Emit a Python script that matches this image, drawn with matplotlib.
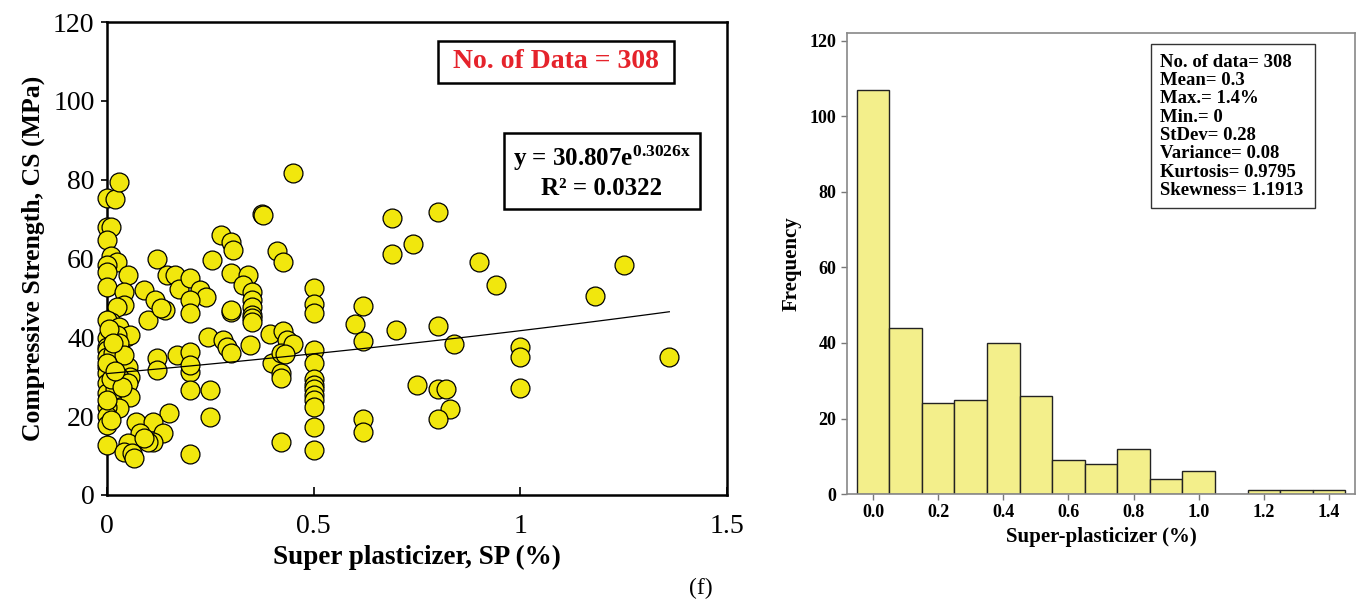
import numpy as np
import matplotlib.pyplot as plt

plt.rcParams['font.family'] = ['Liberation Serif', 'DejaVu Serif']
plt.rcParams['mathtext.fontset'] = 'custom'
plt.rcParams['mathtext.rm'] = 'Liberation Serif:bold'
plt.rcParams['mathtext.it'] = 'Liberation Serif:bold'
plt.rcParams['mathtext.bf'] = 'Liberation Serif:bold'

# Scatter data: super plasticizer (%) vs compressive strength (MPa)
sp = [0, 0.02, 0.03, 0, 0.01, 0, 0.01, 0.025, 0, 0, 0.05, 0, 0.04, 0.04, 0.025,
      0.01, 0, 0.03, 0.045, 0.055, 0, 0.025, 0, 0.03, 0, 0, 0.01, 0, 0.025, 0.05,
      0.055, 0.03, 0, 0, 0.05, 0, 0.03, 0.055, 0.03, 0, 0, 0, 0, 0.015, 0.02,
      0.01, 0.005, 0.04, 0.035, 0.01, 0, 0, 0.02, 0.015,
      0.15, 0.07, 0.11, 0.135, 0.08, 0.11, 0.05, 0.04, 0.06, 0.065, 0.1, 0.09,
      0.12, 0.09, 0.115, 0.14, 0.1, 0.13, 0.145, 0.165, 0.175, 0.2, 0.225, 0.24,
      0.2, 0.2, 0.12, 0.12, 0.17, 0.2, 0.2, 0.2, 0.2, 0.2,
      0.25, 0.25, 0.245, 0.28, 0.29, 0.3, 0.3, 0.3, 0.255, 0.275, 0.3, 0.305,
      0.3, 0.34, 0.33, 0.35, 0.35, 0.35, 0.35, 0.35, 0.35, 0.345, 0.375, 0.378,
      0.41, 0.425, 0.395, 0.425, 0.435, 0.4, 0.42, 0.42, 0.42, 0.42, 0.45, 0.45,
      0.43,
      0.5, 0.5, 0.5, 0.5, 0.5, 0.5, 0.5, 0.5, 0.5, 0.5, 0.5, 0.5, 0.5,
      0.62, 0.6, 0.62, 0.62, 0.62, 0.69, 0.69, 0.7, 0.74, 0.75,
      0.8, 0.8, 0.84, 0.8, 0.82, 0.83, 0.8, 0.9, 0.94, 1.0, 1.0, 1.0, 1.18,
      1.25, 1.36]
cs = [75.4, 75, 79.5, 68, 68, 64.7, 60.7, 59, 58.4, 56.6, 55.8, 52.8, 51.5, 48.2,
      47.7, 44, 44.4, 42.6, 40.1, 40.6, 39.8, 40.6, 37.6, 38.6, 36.8, 35, 34,
      32.5, 33.5, 32.5, 30, 30, 31, 28.4, 28.4, 25.9, 24.9, 24.9, 22, 22.3, 20,
      17.8, 12.7, 36, 27, 29.5, 42, 35.5, 27.5, 19, 24, 33.5, 31.5, 38.5,
      20.8, 18.5, 18.5, 15.7, 15.7, 13.5, 13.2, 11, 10.7, 9.4, 13.4, 14.5,
      60, 52, 49.5, 47, 44.4, 47.5, 55.8, 55.8, 52.3, 55, 52, 50.3,
      49.5, 46.2, 34.8, 31.7, 35.5, 36.3, 31.2, 33, 26.6, 10.4,
      26.6, 19.8, 40, 39.3, 37.6, 36, 46.5, 47, 59.6, 66, 64.2, 62.2,
      56.4, 55.8, 53.3, 51.5, 49.5, 47.7, 45.7, 45, 44, 38, 71.3, 71,
      62, 59, 40.9, 41.6, 39.3, 33.5, 36, 31, 29.7, 13.5, 81.7, 38.3,
      35.8,
      52.5, 48.5, 46.2, 36.8, 33.5, 29.4, 28, 27, 25.4, 24, 22.3, 17.3, 11.4,
      48, 43.4, 39, 19.3, 16, 70.3, 61.2, 41.9, 63.7, 28,
      71.8, 42.9, 38.3, 26.9, 26.9, 21.8, 19.3, 59, 53.3, 37.6, 35, 27.2, 50.5,
      58.4, 35]

# exponential trendline y = a * exp(b x)
fit_a = 30.807
fit_b = 0.3026
fit_xmax = 1.36

# Histogram of super-plasticizer
bin_centers = [0.0, 0.1, 0.2, 0.3, 0.4, 0.5, 0.6, 0.7, 0.8, 0.9, 1.0, 1.1, 1.2, 1.3, 1.4]
counts = [107, 44, 24, 25, 40, 26, 9, 8, 12, 4, 6, 0, 1, 1, 1]

stats_text = ("No. of data= 308   \nMean= 0.3\nMax.= 1.4%\nMin.= 0\nStDev= 0.28\n"
              "Variance= 0.08\nKurtosis= 0.9795\nSkewness= 1.1913")

fig = plt.figure(figsize=(13.6, 6.13), dpi=100)

# ---- left: scatter ----
ax1 = fig.add_axes([0.0787, 0.1925, 0.456, 0.7716])
ax1.scatter(sp, cs, s=185, c='#f1e70d', edgecolors='black', linewidths=0.9,
            zorder=3, clip_on=False)
xf = np.linspace(0, fit_xmax, 100)
ax1.plot(xf, fit_a * np.exp(fit_b * xf), color='black', lw=0.9, zorder=4)
ax1.set_xlim(0, 1.5)
ax1.set_ylim(0, 120)
ax1.set_xticks([0, 0.5, 1, 1.5])
ax1.set_xticklabels(['0', '0.5', '1', '1.5'])
ax1.set_yticks(range(0, 121, 20))
ax1.tick_params(axis='x', direction='in', length=6, width=1.2, labelsize=20, pad=14)
ax1.tick_params(axis='y', direction='out', length=4, width=1.2, labelsize=20, pad=5)
for s in ax1.spines.values():
    s.set_linewidth(1.8)
ax1.set_xlabel('Super plasticizer, SP (%)', fontsize=19.5, fontweight='bold', labelpad=4)
ax1.set_ylabel('Compressive Strength, CS (MPa)', fontsize=18.5, fontweight='bold', labelpad=6)

ax1.text(0.724, 0.916, ' No. of Data = 308 ', transform=ax1.transAxes, ha='center', va='center',
         fontsize=20, fontweight='bold', color='#e5232b',
         bbox=dict(boxstyle='square,pad=0.3', fc='white', ec='black', lw=1.8))
ax1.text(0.798, 0.683, 'y = 30.807e$^{0.3026x}$\nR² = 0.0322', transform=ax1.transAxes,
         ha='center', va='center', fontsize=18, fontweight='bold', linespacing=1.25,
         bbox=dict(boxstyle='square,pad=0.35', fc='white', ec='black', lw=1.8))

fig.text(0.515, 0.04, '(f)', fontsize=17, ha='center', va='center')

# ---- right: histogram ----
ax2 = fig.add_axes([0.6228, 0.194, 0.3735, 0.752])
ax2.bar(bin_centers, counts, width=0.1, color='#f3ef8b', edgecolor='#222222', linewidth=1.0)
ax2.set_xlim(-0.08, 1.48)
ax2.set_ylim(0, 122)
ax2.set_xticks(bin_centers[::2])
ax2.set_xticklabels(['0.0', '0.2', '0.4', '0.6', '0.8', '1.0', '1.2', '1.4'])
ax2.set_yticks(range(0, 121, 20))
ax2.tick_params(direction='out', length=4, width=1, color='#777777', labelsize=13)
for lab in ax2.get_xticklabels() + ax2.get_yticklabels():
    lab.set_fontweight('bold')
for s in ax2.spines.values():
    s.set_color('#888888')
    s.set_linewidth(1.2)
ax2.set_xlabel('Super-plasticizer (%)', fontsize=15, fontweight='bold', labelpad=4)
ax2.set_ylabel('Frequency', fontsize=15, fontweight='bold', labelpad=6)
ax2.text(0.616, 0.955, stats_text, transform=ax2.transAxes, ha='left', va='top',
         fontsize=13.5, fontweight='bold', linespacing=1.1,
         bbox=dict(boxstyle='square,pad=0.5', fc='white', ec='#333333', lw=1.0))

fig.savefig('out.png', dpi=100)
